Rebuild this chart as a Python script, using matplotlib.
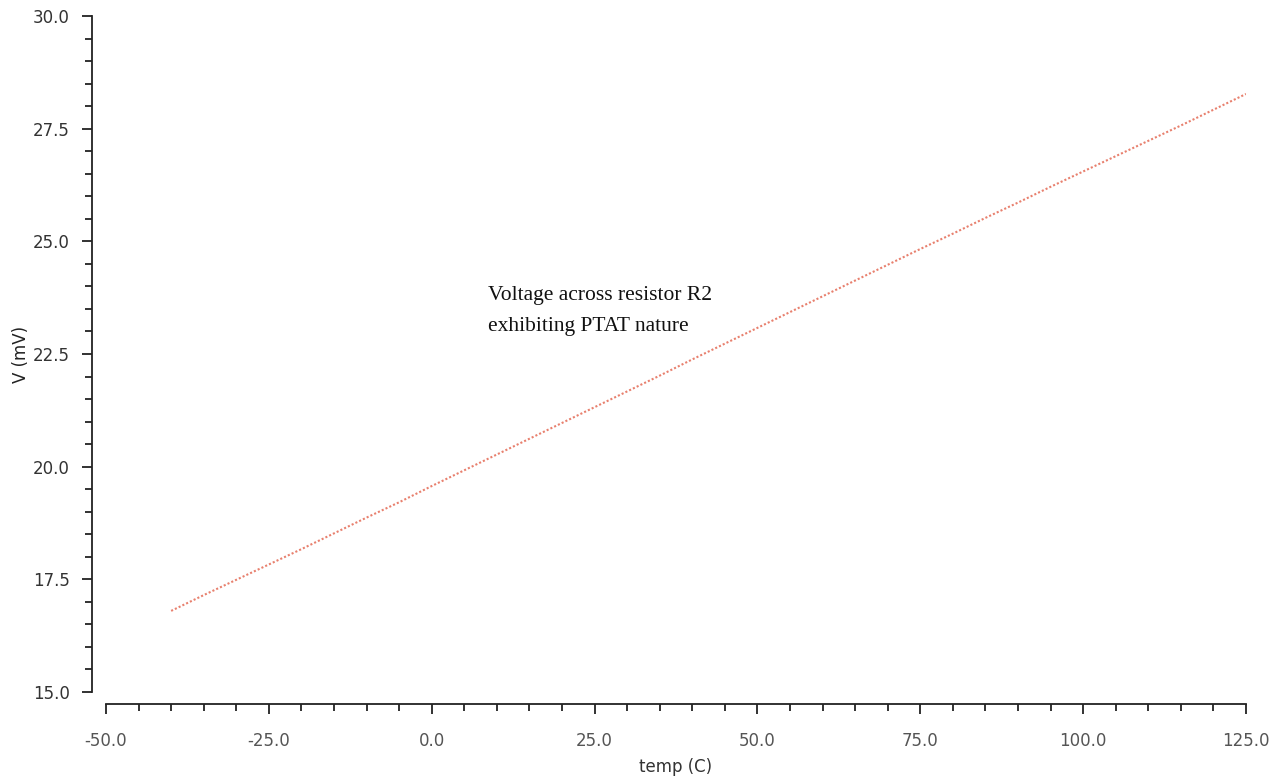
import numpy as np
import matplotlib
matplotlib.use('Agg')
import matplotlib.pyplot as plt
from matplotlib.ticker import MultipleLocator, FormatStrFormatter

plt.rcParams['font.family'] = ['DejaVu Sans']

# temperature sweep (C) and voltage across R2 (mV)
temp = [-40, -35, -30, -25, -20, -15, -10, -5, 0, 5, 10, 15, 20, 25, 30, 35,
        40, 45, 50, 55, 60, 65, 70, 75, 80, 85, 90, 95, 100, 105, 110, 115,
        120, 125]
v_r2 = [16.80, 17.15, 17.49, 17.83, 18.17, 18.52, 18.87, 19.21, 19.57, 19.92,
        20.27, 20.62, 20.97, 21.32, 21.67, 22.02, 22.38, 22.73, 23.08, 23.43,
        23.78, 24.13, 24.48, 24.83, 25.17, 25.52, 25.86, 26.21, 26.55, 26.89,
        27.23, 27.57, 27.92, 28.27]

note = "Voltage across resistor R2\nexhibiting PTAT nature"

fig = plt.figure(figsize=(12.87, 7.8), dpi=100)
ax = fig.add_axes([106 / 1287, 88 / 780, 1140 / 1287, 676 / 780])

ax.plot(temp, v_r2, linestyle=(0, (1, 1)), color='#e8806e', lw=1.5)

ax.set_xlim(-50, 125)
ax.set_ylim(15, 30)

ax.spines['top'].set_visible(False)
ax.spines['right'].set_visible(False)
ax.spines['left'].set_position(('outward', 10))
ax.spines['bottom'].set_position(('outward', 8.6))
for s in ['left', 'bottom']:
    ax.spines[s].set_color('#222222')
    ax.spines[s].set_linewidth(1.3)

ax.xaxis.set_major_locator(MultipleLocator(25))
ax.xaxis.set_minor_locator(MultipleLocator(5))
ax.yaxis.set_major_locator(MultipleLocator(2.5))
ax.yaxis.set_minor_locator(MultipleLocator(0.5))
ax.xaxis.set_major_formatter(FormatStrFormatter('%.1f'))
ax.yaxis.set_major_formatter(FormatStrFormatter('%.1f'))

ax.tick_params(axis='y', which='major', length=7, width=1.3, color='#222222',
               labelsize=12, labelcolor='#333333', pad=9)
ax.tick_params(axis='y', which='minor', length=5, width=1.3, color='#222222')
ax.tick_params(axis='x', which='major', length=7, width=1.3, color='#222222',
               labelsize=12, labelcolor='#555555', pad=13)
ax.tick_params(axis='x', which='minor', length=5, width=1.3, color='#222222')

ax.set_xlabel('temp (C)', fontsize=12, color='#333333', labelpad=6)
ax.set_ylabel('V (mV)', fontsize=12, color='#222222', labelpad=2)

ax.text(8.6, 24.0, note, fontsize=15.5, family='Liberation Serif',
        color='#111111', va='top', ha='left', linespacing=1.85)

fig.savefig('out.png', dpi=100)
